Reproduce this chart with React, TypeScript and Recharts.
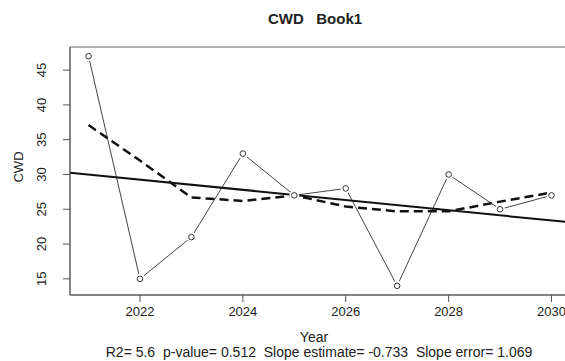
import React from "react";
import {
  ComposedChart,
  Line,
  XAxis,
  YAxis,
  ReferenceArea,
} from "recharts";

// observed CWD per year
const years = [2021, 2022, 2023, 2024, 2025, 2026, 2027, 2028, 2029, 2030];
const cwd = [47, 15, 21, 33, 27, 28, 14, 30, 25, 27];
// smoothed curve (dashed)
const smooth = [37.1, 32.0, 26.7, 26.2, 27.0, 25.4, 24.7, 24.7, 26.1, 27.4];
// linear trend, endpoints at the plot edges
const trendYears = [2020.64, 2030.36];
const trendValues = [30.26, 23.13];

const xTicks = [2022, 2024, 2026, 2028, 2030];
const yTicks = [15, 20, 25, 30, 35, 40, 45];
const xDomain: [number, number] = [2020.64, 2030.36];
const yDomain: [number, number] = [12.68, 48.32];

const title = "CWD   Book1";
const xLabel = "Year";
const yLabel = "CWD";
const stats = "R2= 5.6  p-value= 0.512  Slope estimate= -0.733  Slope error= 1.069";

const obsData = years.map((y, i) => ({ year: y, value: cwd[i] }));
const smoothData = years.map((y, i) => ({ year: y, value: smooth[i] }));
const trendData = trendYears.map((y, i) => ({ year: y, value: trendValues[i] }));

const FONT = "'Liberation Sans', Arial, sans-serif";
const INK = "#222";

// open circle with a white gap round it (like R type="b")
const OpenDot = (props: any) => {
  const { cx, cy } = props;
  if (cx == null || cy == null) return null;
  return (
    <g>
      <circle cx={cx} cy={cy} r={5} fill="#fff" stroke="none" />
      <circle cx={cx} cy={cy} r={2.8} fill="none" stroke="#333" strokeWidth={1} />
    </g>
  );
};

const XTick = (props: any) => {
  const { x, payload } = props;
  return (
    <text x={x} y={311} textAnchor="middle" dominantBaseline="central" fontSize={13} fontFamily={FONT} fill={INK}>
      {payload.value}
    </text>
  );
};

const YTick = (props: any) => {
  const { y, payload } = props;
  const lx = 42;
  return (
    <text
      x={lx}
      y={y}
      transform={`rotate(-90 ${lx} ${y})`}
      textAnchor="middle"
      dominantBaseline="central"
      fontSize={13}
      fontFamily={FONT}
      fill={INK}
    >
      {payload.value}
    </text>
  );
};

export default function App() {
  return (
    <div
      style={{
        position: "fixed",
        left: 0,
        top: 0,
        width: 565,
        height: 361,
        overflow: "hidden",
        background: "#fff",
        fontFamily: FONT,
        color: INK,
      }}
    >
      {/* Title */}
      <div
        style={{
          position: "absolute",
          left: 0,
          width: 630,
          top: 10,
          textAlign: "center",
          fontWeight: "bold",
          fontSize: 15,
          whiteSpace: "pre",
        }}
      >
        {title}
      </div>

      <ComposedChart
        width={580}
        height={361}
        margin={{ top: 47, right: 10, bottom: 0, left: 0 }}
      >
        <XAxis
          type="number"
          dataKey="year"
          domain={xDomain}
          ticks={xTicks}
          allowDataOverflow
          height={66}
          tick={<XTick />}
          tickSize={7}
          axisLine={{ stroke: "#555" }}
          tickLine={{ stroke: "#555" }}
        />
        <YAxis
          type="number"
          dataKey="value"
          domain={yDomain}
          ticks={yTicks}
          allowDataOverflow
          width={70}
          tick={<YTick />}
          tickSize={7}
          axisLine={{ stroke: "#555" }}
          tickLine={{ stroke: "#555" }}
        />
        <ReferenceArea
          x1={xDomain[0]}
          x2={xDomain[1]}
          y1={yDomain[0]}
          y2={yDomain[1]}
          fill="none"
          stroke="#666"
          strokeWidth={1}
        />
        <Line
          data={obsData}
          dataKey="value"
          type="linear"
          stroke="#444"
          strokeWidth={1}
          dot={<OpenDot />}
          activeDot={false}
          isAnimationActive={false}
        />
        <Line
          data={smoothData}
          dataKey="value"
          type="linear"
          stroke="#111"
          strokeWidth={2.5}
          strokeDasharray="9 5"
          dot={false}
          activeDot={false}
          isAnimationActive={false}
        />
        <Line
          data={trendData}
          dataKey="value"
          type="linear"
          stroke="#111"
          strokeWidth={2}
          dot={false}
          activeDot={false}
          isAnimationActive={false}
        />
      </ComposedChart>

      {/* Y axis title */}
      <div
        style={{
          position: "absolute",
          left: 18,
          top: 167,
          transform: "translate(-50%, -50%) rotate(-90deg)",
          fontSize: 13,
          whiteSpace: "pre",
        }}
      >
        {yLabel}
      </div>

      {/* X axis title and stats */}
      <div
        style={{
          position: "absolute",
          left: 0,
          width: 628,
          top: 330,
          textAlign: "center",
          fontSize: 14,
          lineHeight: "14px",
        }}
      >
        {xLabel}
      </div>
      <div
        style={{
          position: "absolute",
          left: 0,
          width: 638,
          top: 345,
          textAlign: "center",
          fontSize: 14,
          lineHeight: "14px",
          whiteSpace: "pre",
        }}
      >
        {stats}
      </div>
    </div>
  );
}
